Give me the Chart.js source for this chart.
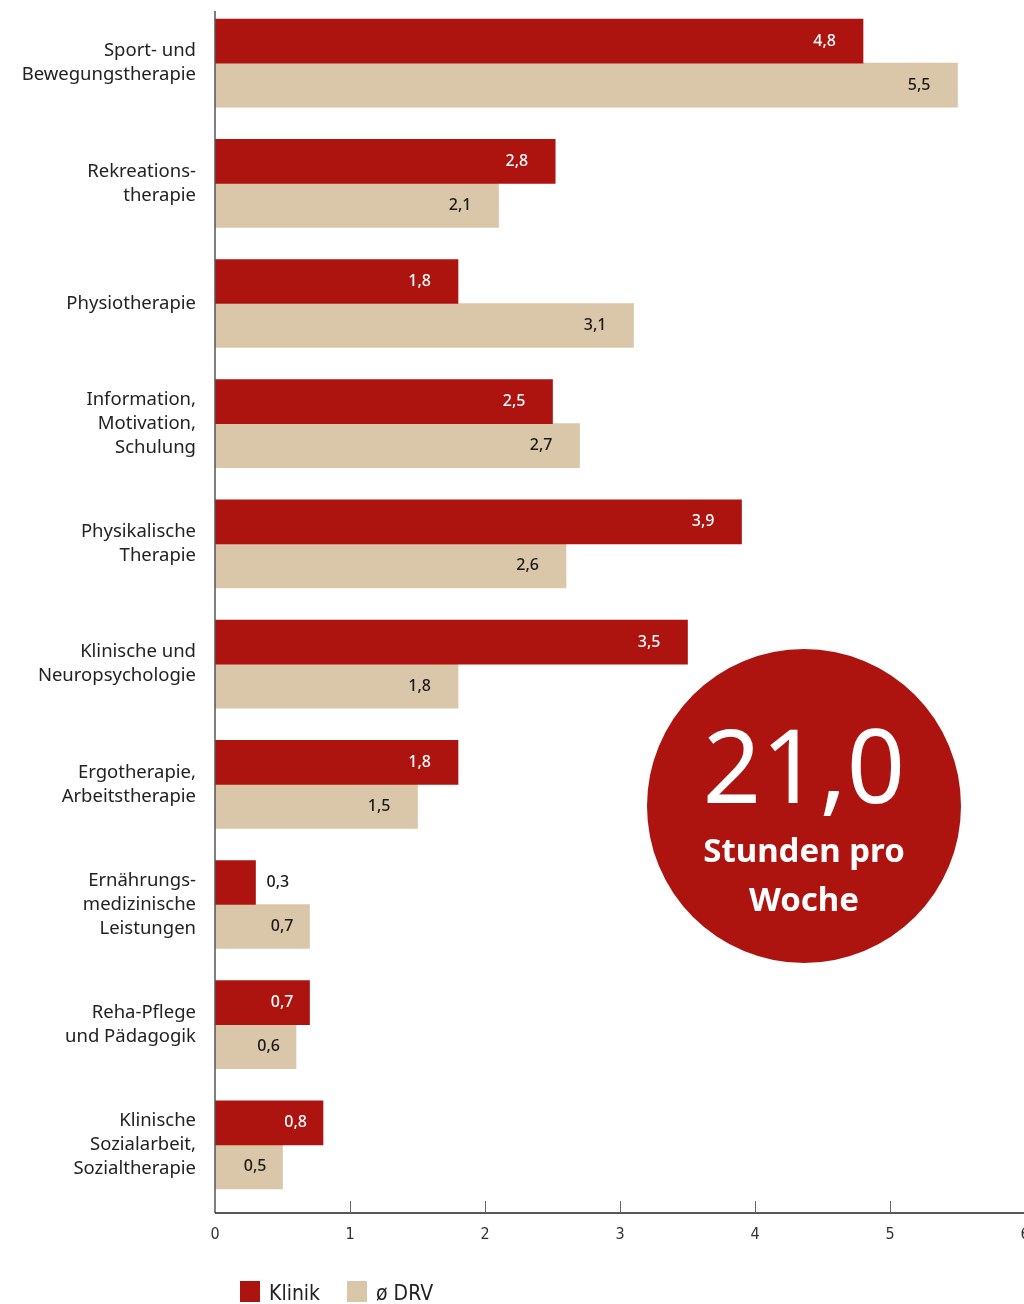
<!DOCTYPE html>
<html lang="de">
<head>
<meta charset="utf-8">
<script src="https://cdn.jsdelivr.net/npm/chart.js@4.4.1/dist/chart.umd.min.js"></script>
<style>
    html, body { margin: 0; padding: 0; background: #fff; overflow: hidden; }
    #wrap { position: relative; width: 1024px; height: 1304px; overflow: hidden; }
    #wrap canvas { position: absolute; left: 0; top: 0; }
    .kreis {
        position: absolute; left: 647px; top: 649px; width: 314px; height: 314px;
        border-radius: 50%; background: #AD1410; color: #fff; text-align: center;
        font-family: "Noto Sans", sans-serif;
    }
    .kreis .zahl { position: absolute; left: 0; right: 0; top: 64px; font-size: 102px; line-height: 1; }
    .kreis .text { position: absolute; left: 0; right: 0; top: 176px; font-size: 33px; font-weight: 700; line-height: 49px; }
    .legende { position: absolute; left: 240px; top: 1281px; font-family: "Liberation Sans Narrow", "DejaVu Sans Condensed", sans-serif; font-size: 21px; color: #222; }
    .legende span { display: inline-block; vertical-align: top; }
    .legende .box { width: 20px; height: 21px; margin-right: 9px; }
</style>
</head>
<body>
<div id="wrap">
    <canvas id="therapieChart" width="1040" height="1304" style="width:1040px;height:1304px"></canvas>
    <div class="kreis">
        <div class="zahl">21,0</div>
        <div class="text">Stunden pro<br>Woche</div>
    </div>
    <div class="legende">
        <span class="box" style="background:#AD1410"></span><span style="margin-right:21px">Klinik</span>
        <span class="box" style="background:#DAC6A8"></span><span>ø DRV</span>
    </div>
</div>
<script>
// Kategorien (mehrzeilig wie im Original)
const kategorien = [
    ['Sport- und', 'Bewegungstherapie'],
    ['Rekreations-', 'therapie'],
    'Physiotherapie',
    ['Information,', 'Motivation,', 'Schulung'],
    ['Physikalische', 'Therapie'],
    ['Klinische und', 'Neuropsychologie'],
    ['Ergotherapie,', 'Arbeitstherapie'],
    ['Ernährungs-', 'medizinische', 'Leistungen'],
    ['Reha-Pflege', 'und Pädagogik'],
    ['Klinische', 'Sozialarbeit,', 'Sozialtherapie']
];

// Balkenlängen (Stunden pro Woche)
const klinikWerte = [4.8, 2.52, 1.8, 2.5, 3.9, 3.5, 1.8, 0.3, 0.7, 0.8];
const drvWerte    = [5.5, 2.1, 3.1, 2.7, 2.6, 1.8, 1.5, 0.7, 0.6, 0.5];

// Beschriftungen an den Balken
const klinikLabels = ['4,8', '2,8', '1,8', '2,5', '3,9', '3,5', '1,8', '0,3', '0,7', '0,8'];
const drvLabels    = ['5,5', '2,1', '3,1', '2,7', '2,6', '1,8', '1,5', '0,7', '0,6', '0,5'];

const xTicks = [0, 1, 2, 3, 4, 5, 6];

const ROT = '#AD1410';
const BEIGE = '#DAC6A8';

// Achsenlinien, Striche und Werte zeichnen
const achsenPlugin = {
    id: 'achsen',
    afterDatasetsDraw(chart) {
        const ctx = chart.ctx;
        const x = chart.scales.x;
        const area = chart.chartArea;
        const achseY = area.bottom + 8;

        ctx.save();
        // y-Achse
        ctx.strokeStyle = '#555';
        ctx.lineWidth = 1.5;
        ctx.beginPath();
        ctx.moveTo(x.getPixelForValue(0), 11);
        ctx.lineTo(x.getPixelForValue(0), achseY);
        ctx.stroke();
        // x-Achse
        ctx.strokeStyle = '#222';
        ctx.beginPath();
        ctx.moveTo(x.getPixelForValue(0), achseY);
        ctx.lineTo(x.getPixelForValue(6), achseY);
        ctx.stroke();
        // Striche
        ctx.strokeStyle = '#666';
        ctx.lineWidth = 1;
        xTicks.forEach(function(t) {
            if (t === 0) return;
            const px = Math.round(x.getPixelForValue(t)) + 0.5;
            ctx.beginPath();
            ctx.moveTo(px, achseY - 12);
            ctx.lineTo(px, achseY);
            ctx.stroke();
        });

        // Werte an den Balken
        ctx.font = '500 16px "Noto Sans", sans-serif';
        ctx.textBaseline = 'middle';
        const sets = [
            { meta: chart.getDatasetMeta(0), labels: klinikLabels, werte: klinikWerte, farbe: '#fff' },
            { meta: chart.getDatasetMeta(1), labels: drvLabels, werte: drvWerte, farbe: '#1a1a1a' }
        ];
        sets.forEach(function(s) {
            s.meta.data.forEach(function(bar, i) {
                const wert = s.werte[i];
                if (wert < 0.5) {
                    // zu kurz: Wert rechts neben den Balken
                    ctx.fillStyle = '#1a1a1a';
                    ctx.textAlign = 'left';
                    ctx.fillText(s.labels[i], bar.x + 11, bar.y);
                } else {
                    ctx.fillStyle = s.farbe;
                    ctx.textAlign = 'right';
                    const abstand = wert < 1 ? 16 : 27;
                    ctx.fillText(s.labels[i], bar.x - abstand, bar.y);
                }
            });
        });
        ctx.restore();
    }
};

const ctx = document.getElementById('therapieChart').getContext('2d');
const therapieChart = new Chart(ctx, {
    type: 'bar',
    data: {
        labels: kategorien,
        datasets: [
            { label: 'Klinik', data: klinikWerte, backgroundColor: ROT, barThickness: 44 },
            { label: 'ø DRV', data: drvWerte, backgroundColor: BEIGE, barThickness: 44 }
        ]
    },
    options: {
        indexAxis: 'y',
        responsive: false,
        animation: false,
        layout: { padding: { top: 3, right: 15, left: 0, bottom: 0 } },
        plugins: {
            legend: { display: false },
            tooltip: { enabled: false }
        },
        scales: {
            x: {
                min: 0,
                max: 6,
                afterBuildTicks: function(scale) {
                    scale.ticks = xTicks.map(function(v) { return { value: v }; });
                },
                afterFit: function(scale) {
                    scale.height = 99;
                    scale.paddingLeft = 0;
                    scale.paddingRight = 0;
                },
                grid: { display: false, drawTicks: false },
                border: { display: false },
                ticks: {
                    padding: 20,
                    color: '#333',
                    font: { family: '"Liberation Sans Narrow", "DejaVu Sans Condensed", sans-serif', size: 16 }
                }
            },
            y: {
                afterFit: function(scale) {
                    scale.width = 215;
                    scale.paddingTop = 0;
                    scale.paddingBottom = 0;
                },
                grid: { display: false, drawTicks: false },
                border: { display: false },
                ticks: {
                    padding: 19,
                    color: '#222',
                    font: { family: '"Noto Sans", sans-serif', size: 18.5, lineHeight: 1.3 }
                }
            }
        }
    },
    plugins: [achsenPlugin]
});
</script>
</body>
</html>
